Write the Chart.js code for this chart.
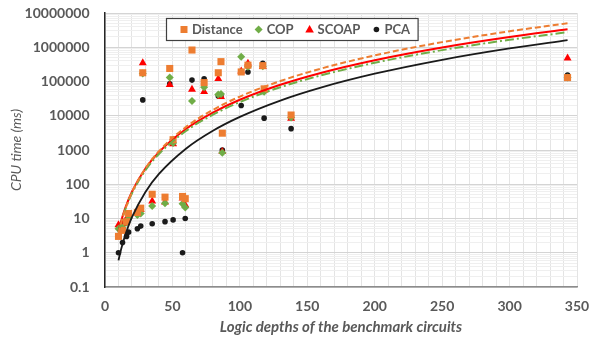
<!DOCTYPE html>
<html>
<head>
<meta charset="utf-8">
<script src="https://cdn.jsdelivr.net/npm/chart.js@4.4.1/dist/chart.umd.min.js"></script>
<style>
  html, body { margin: 0; padding: 0; background: #fff; }
</style>
</head>
<body>
<canvas id="cpu-chart" width="590" height="339"></canvas>
<script>
// benchmark circuits: logic depth and CPU time (ms) for each method
const depths   = [10, 13, 16, 17.5, 24, 26.5, 28, 35, 44.5, 48, 50.5, 57.5, 59.5, 64.5, 73.5, 84, 86, 87, 101, 106, 117, 118, 138, 343];
const distance = [3, 4.5, 8, 14, 15, 20, 180000, 51, 42, 240000, 2000, 44, 38, 830000, 93000, 180000, 380000, 3100, 190000, 300000, 290000, 61000, 10500, 130000];
const cop      = [5, 5.5, 7.6, 10, 12.6, 14, 170000, 23, 28, 130000, 1600, 27, 21, 27000, 68000, 42000, 43000, 830, 530000, 270000, 280000, 50000, 8900, 130000];
const scoap    = [6.5, 7, 10, 12, 16, 18, 350000, 32, 30, 80000, 1500, 39, 25, 59000, 50000, 120000, 36000, 900, 200000, 340000, 270000, 56000, 8400, 480000];
const pca      = [1, 2, 3, 4, 5, 6, 29000, 7, 8.1, 85000, 9.1, 1, 10, 110000, 120000, 38000, 38000, 1000, 20000, 190000, 340000, 8500, 4200, 155000];

// power trend lines at these depths
const trendDepths   = [10, 12, 15, 20, 30, 40, 60, 80, 100, 130, 160, 200, 250, 300, 343];
const trendDistance = [3.6, 7.5, 18.3, 58, 293, 927, 4690, 14800, 36200, 103000, 237000, 578000, 1410000, 2930000, 5000000];
const trendCop      = [3.9, 7.8, 18.2, 54.5, 256, 766, 3590, 10700, 25100, 68200, 150000, 352000, 824000, 1650000, 2750000];
const trendScoap    = [4.2, 8.5, 20.1, 60.6, 288, 869, 4120, 12400, 29300, 80100, 178000, 419000, 986000, 1990000, 3330000];
const trendPca      = [0.6, 1.29, 3.27, 10.9, 59.7, 200, 1090, 3640, 9270, 27800, 66400, 169000, 431000, 925000, 1620000];

const xTickLabels = ['0', '50', '100', '150', '200', '250', '300', '350'];
const yTickLabels = ['0.1', '1', '10', '100', '1000', '10000', '100000', '1000000', '10000000'];

const ORANGE = '#ED7D31', GREEN = '#70AD47', RED = '#FF0000', BLACK = '#1a1a1a';
const TEXT = '#595959';
const FONT = 'Lato, "Open Sans", sans-serif';

const pts = (xs, ys) => xs.map((x, i) => ({ x, y: ys[i] }));

const scatterSet = (label, values, color, style, radius) => ({
    label,
    data: pts(depths, values),
    backgroundColor: color,
    borderColor: color,
    borderWidth: 0,
    pointStyle: style,
    pointRadius: radius,
    order: 1
});

const trendSet = (values, color, dash, width) => ({
    label: 'trend',
    data: pts(trendDepths, values),
    showLine: true,
    borderColor: color,
    borderWidth: width,
    borderDash: dash,
    pointRadius: 0,
    cubicInterpolationMode: 'monotone',
    fill: false,
    order: 0
});

function drawMarker(ctx, style, x, y, color) {
    ctx.fillStyle = color;
    ctx.beginPath();
    if (style === 'rect') ctx.rect(x - 3.5, y - 3.5, 7, 7);
    else if (style === 'rectRot') { ctx.moveTo(x, y - 4); ctx.lineTo(x + 4, y); ctx.lineTo(x, y + 4); ctx.lineTo(x - 4, y); }
    else if (style === 'triangle') { ctx.moveTo(x, y - 4.5); ctx.lineTo(x + 4.3, y + 3); ctx.lineTo(x - 4.3, y + 3); }
    else ctx.arc(x, y, 2.8, 0, Math.PI * 2);
    ctx.closePath();
    ctx.fill();
}

// legend box drawn inside the plot, like the original
const insideLegend = {
    id: 'insideLegend',
    afterDatasetsDraw(chart) {
        const ctx = chart.ctx;
        const items = chart.data.datasets.filter(d => d.label !== 'trend');
        const left = 166.5, top = 18.5, h = 22;
        ctx.save();
        ctx.font = 'bold 13px ' + FONT;
        let x = left + 17.5;
        const pos = items.map(d => {
            const p = { d, x };
            x += 8 + ctx.measureText(d.label).width + 16;
            return p;
        });
        const right = x - 16 + 8;
        ctx.fillStyle = '#fff';
        ctx.fillRect(left, top, right - left, h);
        ctx.strokeStyle = '#404040';
        ctx.lineWidth = 1.2;
        ctx.strokeRect(left, top, right - left, h);
        const cy = top + h / 2;
        pos.forEach(p => {
            drawMarker(ctx, p.d.pointStyle, p.x, cy, p.d.backgroundColor);
            ctx.fillStyle = TEXT;
            ctx.textBaseline = 'middle';
            ctx.textAlign = 'left';
            ctx.fillText(p.d.label, p.x + 8, cy + 0.5);
        });
        ctx.restore();
    }
};

const isDecade = v => Math.abs(Math.log10(v) - Math.round(Math.log10(v))) < 1e-9;

new Chart(document.getElementById('cpu-chart'), {
    type: 'scatter',
    data: {
        datasets: [
            trendSet(trendDistance, ORANGE, [6, 3], 2),
            trendSet(trendCop, GREEN, [9, 3, 2, 3], 2),
            trendSet(trendScoap, RED, [], 2),
            trendSet(trendPca, BLACK, [], 1.8),
            scatterSet('Distance', distance, ORANGE, 'rect', 5),
            scatterSet('COP', cop, GREEN, 'rectRot', 4),
            scatterSet('SCOAP', scoap, RED, 'triangle', 4.6),
            scatterSet('PCA', pca, BLACK, 'circle', 2.8)
        ]
    },
    options: {
        responsive: false,
        animation: false,
        layout: { autoPadding: false, padding: { top: 13, right: 13, left: 0, bottom: 0 } },
        plugins: {
            legend: { display: false },
            tooltip: { enabled: false }
        },
        scales: {
            x: {
                type: 'linear',
                min: 0,
                max: 350,
                afterBuildTicks: (s) => {
                    const t = [];
                    for (let v = 0; v <= 350; v += 10) t.push({ value: v });
                    s.ticks = t;
                },
                afterFit: (s) => {
                    s.height = 52;
                    s.paddingLeft = 0;
                    s.paddingRight = 0;
                },
                ticks: {
                    autoSkip: false,
                    maxRotation: 0,
                    padding: 11,
                    color: TEXT,
                    font: { family: FONT, size: 14, weight: 'bold' },
                    callback: (v) => (v % 50 === 0 ? xTickLabels[v / 50] : '')
                },
                grid: { color: '#e4e4e4', lineWidth: 1, drawTicks: false },
                border: { color: '#8c8c8c', width: 1.5 },
                title: {
                    display: true,
                    text: 'Logic depths of the benchmark circuits',
                    color: TEXT,
                    padding: { top: 0, bottom: 2.5 },
                    font: { family: FONT, size: 15, weight: 'bold', style: 'italic' }
                }
            },
            y: {
                type: 'logarithmic',
                min: 0.1,
                max: 10000000,
                afterBuildTicks: (s) => {
                    const t = [];
                    for (let e = -1; e < 7; e++) {
                        for (let m = 1; m <= 9; m++) t.push({ value: Number((m * Math.pow(10, e)).toPrecision(3)) });
                    }
                    t.push({ value: 10000000 });
                    s.ticks = t;
                },
                afterFit: (s) => {
                    s.width = 105;
                    s.paddingTop = 0;
                    s.paddingBottom = 0;
                },
                ticks: {
                    autoSkip: false,
                    padding: 15.5,
                    color: TEXT,
                    font: { family: FONT, size: 14, weight: 'bold' },
                    callback: (v) => (isDecade(v) ? yTickLabels[Math.round(Math.log10(v)) + 1] : '')
                },
                grid: {
                    drawTicks: false,
                    color: (c) => (c.tick && isDecade(c.tick.value) ? '#d4d4d4' : '#efefef'),
                    lineWidth: 1
                },
                border: { color: '#262626', width: 1.5 },
                title: {
                    display: true,
                    text: 'CPU time (ms)',
                    color: TEXT,
                    padding: { top: 8.5, bottom: 0 },
                    font: { family: FONT, size: 14, weight: 'normal', style: 'italic' }
                }
            }
        }
    },
    plugins: [insideLegend]
});
</script>
</body>
</html>
